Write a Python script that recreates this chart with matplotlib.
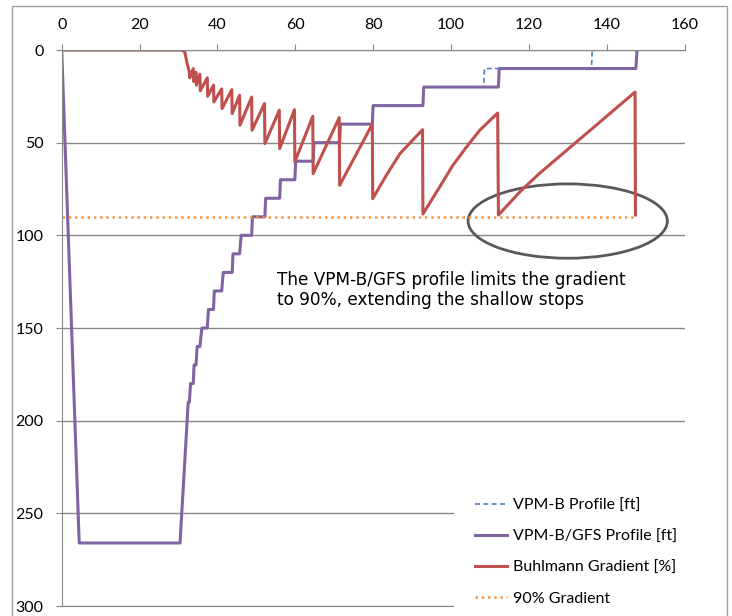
import numpy as np
import matplotlib
matplotlib.use("Agg")
import matplotlib.pyplot as plt
from matplotlib.patches import Ellipse, Rectangle

# run time [min] vs depth [ft]
gfs_time = [0, 4.5, 30.4, 32.5, 32.8, 33.1, 33.8, 34.0, 34.5, 34.8, 35.5, 36.0, 37.4,
            37.7, 39.0, 39.2, 41.1, 41.5, 43.8, 44.0, 45.7, 46.1, 48.8, 49.0, 52.2,
            52.4, 56.0, 56.2, 59.9, 60.1, 64.6, 64.8, 71.4, 71.6, 79.8, 80.0, 92.8,
            93.0, 112.2, 112.4, 147.5, 147.8]
gfs_depth = [0, 266, 266, 190, 190, 180, 180, 170, 170, 160, 160, 150, 150,
             140, 140, 130, 130, 120, 120, 110, 110, 100, 100, 90, 90,
             80, 80, 70, 70, 60, 60, 50, 50, 40, 40, 30, 30,
             20, 20, 10, 10, 0]

vpm_time = gfs_time[:38] + [108.4, 108.6, 136.1, 136.3]
vpm_depth = gfs_depth[:38] + [20, 10, 10, 0]

# Buhlmann gradient [%]
grad_time = [0, 30.8, 31.6, 32.2, 32.8, 32.9, 33.8, 33.9, 34.5, 34.6, 35.5, 35.6,
             37.4, 37.5, 39.0, 39.1, 41.1, 41.2, 43.7, 43.8, 45.7, 45.8, 48.8, 48.9,
             52.1, 52.2, 55.9, 56.0, 59.8, 59.9, 64.5, 64.6, 71.3, 71.4, 79.8, 79.9,
             83.4, 86.9, 92.7, 92.8, 97.1, 100.5, 104.0, 107.4, 112.0, 112.2, 118.1,
             122.8, 147.3, 147.4]
grad = [0, 0, 1, 7, 12, 15, 10, 17, 12, 19, 13, 22,
        15, 25, 19, 28, 21, 31.6, 21.4, 34.3, 24.4, 40.6, 25.4, 43.3,
        28.9, 50.5, 32.5, 53.2, 32.2, 60.4, 35.8, 66.7, 36.5, 73, 40, 80.2,
        67.6, 55.9, 43, 88.5, 73.9, 62.2, 52.3, 43.3, 34, 89, 75.7,
        66.5, 22.7, 89]

limit_time = [0, 147.6]
limit = [90, 90]

x_ticks = [0, 20, 40, 60, 80, 100, 120, 140, 160]
y_ticks = [0, 50, 100, 150, 200, 250, 300]

note = "The VPM-B/GFS profile limits the gradient\nto 90%, extending the shallow stops"

W, H = 732, 616
fig = plt.figure(figsize=(W / 100, H / 100), dpi=100)
ax = fig.add_axes([61.7 / W, 1 - 606 / H, (684.5 - 61.7) / W, (606 - 50) / H])

grey = "#888888"
ax.set_xlim(0, 160)
ax.set_ylim(300, 0)
ax.xaxis.tick_top()
ax.set_xticks(x_ticks)
ax.set_yticks(y_ticks)
ax.tick_params(axis="both", direction="out", length=4, color=grey, labelsize=11.5,
               labelcolor="#000000")
ax.tick_params(axis="x", pad=9)
ax.tick_params(axis="y", pad=9)
for lab in ax.get_xticklabels() + ax.get_yticklabels():
    lab.set_family("Lato")
ax.yaxis.grid(True, color=grey, linewidth=1.0)
ax.set_axisbelow(True)
ax.spines["right"].set_visible(False)
ax.spines["bottom"].set_color(grey)
ax.spines["top"].set_color(grey)
ax.spines["left"].set_color(grey)

ax.plot(vpm_time, vpm_depth, color="#4F81BD", linestyle="--", linewidth=1.2,
        dashes=(3, 2), label="VPM-B Profile [ft]")
ax.plot(gfs_time, gfs_depth, color="#8064A2", linewidth=2.2, label="VPM-B/GFS Profile [ft]")
ax.plot(grad_time, grad, color="#C0504D", linewidth=2.2, label="Buhlmann Gradient [%]")
ax.plot(limit_time, limit, color="#F79646", linewidth=1.8, linestyle=(0, (1, 1.5)),
        label="90% Gradient")

ax.add_patch(Ellipse((130.0, 92.3), 51.2, 40.1, fill=False, edgecolor="#595959",
                     linewidth=2.0, clip_on=False))
ax.text(55.2, 119.0, note, fontsize=12.2, family="DejaVu Sans", va="top", ha="left",
        linespacing=1.2)

leg = ax.legend(loc="upper left", bbox_to_anchor=(446 / W, 1 - 470 / H),
                bbox_transform=fig.transFigure, frameon=True, fancybox=False,
                borderpad=1.3, handlelength=2.0, handletextpad=0.4, labelspacing=1.05,
                prop={"family": "Lato", "size": 11.5})
leg.get_frame().set_facecolor("white")
leg.get_frame().set_edgecolor("none")
leg.get_frame().set_alpha(1.0)

fig.patches.append(Rectangle((12 / W, -0.05), (727 - 12) / W, 1.05 - 6 / H,
                             transform=fig.transFigure, fill=False,
                             edgecolor="#a0a0a0", linewidth=1.0))

fig.savefig("out.png", dpi=100)
